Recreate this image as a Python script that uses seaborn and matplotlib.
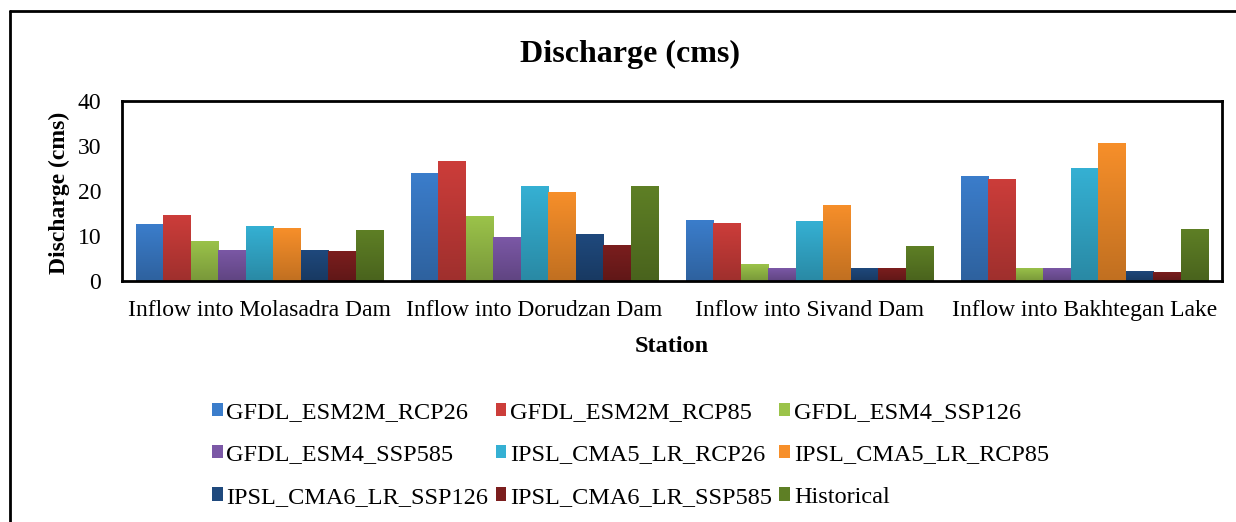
import numpy as np
import pandas as pd
import matplotlib
matplotlib.use("Agg")
import matplotlib.pyplot as plt
import matplotlib.colors as mcolors
from matplotlib.patches import Patch
from matplotlib.lines import Line2D
import seaborn as sns

stations = ["Inflow into Molasadra Dam", "Inflow into Dorudzan Dam",
            "Inflow into Sivand Dam", "Inflow into Bakhtegan Lake"]
models = ["GFDL_ESM2M_RCP26", "GFDL_ESM2M_RCP85", "GFDL_ESM4_SSP126",
          "GFDL_ESM4_SSP585", "IPSL_CMA5_LR_RCP26", "IPSL_CMA5_LR_RCP85",
          "IPSL_CMA6_LR_SSP126", "IPSL_CMA6_LR_SSP585", "Historical"]
gfdl_esm2m_rcp26 = [12.6, 24.0, 13.5, 23.4]
gfdl_esm2m_rcp85 = [14.6, 26.7, 12.8, 22.7]
gfdl_esm4_ssp126 = [9.0, 14.4, 3.7, 3.0]
gfdl_esm4_ssp585 = [7.0, 9.7, 2.8, 3.0]
ipsl_cma5_rcp26 = [12.2, 21.1, 13.3, 25.1]
ipsl_cma5_rcp85 = [11.7, 19.8, 16.9, 30.7]
ipsl_cma6_ssp126 = [7.0, 10.4, 3.0, 2.3]
ipsl_cma6_ssp585 = [6.6, 8.1, 2.8, 2.1]
historical = [11.3, 21.1, 7.7, 11.5]
colors = ["#3B7DCB", "#CC3D3A", "#9BC34A", "#7B58A6", "#35B0D3",
          "#F78F2A", "#1F497D", "#7B1E1E", "#5E7F25"]

series = [gfdl_esm2m_rcp26, gfdl_esm2m_rcp85, gfdl_esm4_ssp126, gfdl_esm4_ssp585,
          ipsl_cma5_rcp26, ipsl_cma5_rcp85, ipsl_cma6_ssp126, ipsl_cma6_ssp585,
          historical]
rows = []
for m, vals in zip(models, series):
    for s, v in zip(stations, vals):
        rows.append({"Station": s, "Model": m, "Discharge": v})
df = pd.DataFrame(rows)

sns.set_style("white")
plt.rcParams["font.family"] = ["Liberation Serif", "DejaVu Serif"]
plt.rcParams["text.color"] = "black"
plt.rcParams["axes.labelcolor"] = "black"
plt.rcParams["xtick.color"] = "black"
plt.rcParams["ytick.color"] = "black"

fig = plt.figure(figsize=(12.36, 5.22), dpi=100)
ax = fig.add_axes([122/1236, 1-281/522, 1100/1236, 180/522])
sns.barplot(data=df, x="Station", y="Discharge", hue="Model", order=stations,
            hue_order=models, palette=colors, width=0.9, gap=0, ax=ax,
            legend=False, saturation=1, errorbar=None, linewidth=0)
ax.set_ylim(0, 40)
ax.set_yticks([0, 10, 20, 30, 40])
ax.set_xlim(-0.5, 3.5)

# vertical gradient fill for each bar (lighter top, darker bottom)
for p in list(ax.patches):
    x0, y0 = p.get_x(), p.get_y()
    w, h = p.get_width(), p.get_height()
    if h <= 0:
        continue
    base = np.array(mcolors.to_rgb(p.get_facecolor()))
    dark = base * 0.78
    t = np.linspace(0, 1, 64)[:, None]
    grad = dark[None, :] * (1 - t) + base[None, :] * t
    img = grad[:, None, :]
    im = ax.imshow(img, extent=(x0, x0 + w, y0, y0 + h), origin="lower",
                   aspect="auto", zorder=p.get_zorder() + 0.1, interpolation="bilinear")
    im.set_clip_path(p)
ax.set_xlim(-0.5, 3.5)
ax.set_ylim(0, 40)

ax.tick_params(axis="both", length=0, labelsize=17, colors="black")
ax.tick_params(axis="y", pad=15)
ax.tick_params(axis="x", pad=14)
ax.set_xlabel("Station", fontsize=17.5, fontweight="bold")
ax.xaxis.label.set_va("center")
ax.xaxis.set_label_coords(0.5, (281 - 346) / 180)
ax.set_ylabel("Discharge (cms)", fontsize=17, fontweight="bold")
ax.yaxis.label.set_va("center")
ax.yaxis.set_label_coords((59 - 122) / 1100, 0.49)
for sp in ax.spines.values():
    sp.set_visible(True)
    sp.set_color("black")
    sp.set_linewidth(2)
    sp.set_zorder(5)

fig.text(0.51, 1-54/522, "Discharge (cms)", ha="center", va="center",
         fontsize=23, fontweight="bold")

order = [0, 3, 6, 1, 4, 7, 2, 5, 8]
handles = [Patch(facecolor=colors[i], edgecolor="none") for i in order]
labels = [models[i] for i in order]
fig.legend(handles, labels, ncol=3, loc="center", bbox_to_anchor=(0.51, 1-455/522),
           frameon=False, fontsize=17.5, handlelength=0.45, handleheight=0.45,
           handletextpad=0.15, columnspacing=0.3, labelspacing=0.87)

fig.add_artist(Line2D([10/1236, 10/1236], [0, 1-11/522], color="black", lw=2,
                      transform=fig.transFigure))
fig.add_artist(Line2D([10/1236, 1], [1-11/522, 1-11/522], color="black", lw=2,
                      transform=fig.transFigure))

fig.savefig("out.png", dpi=100, facecolor="white")
